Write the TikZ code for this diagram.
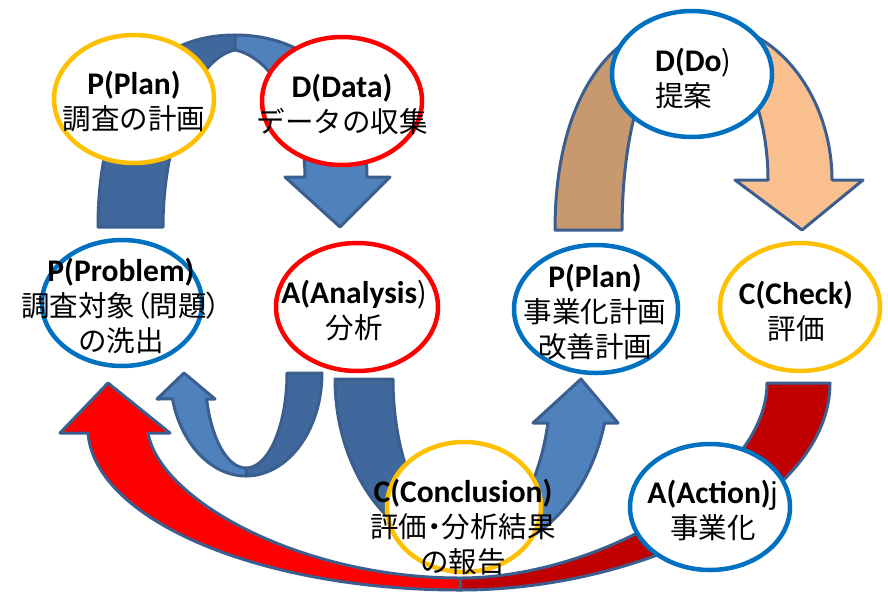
\documentclass[tikz,border=0pt]{standalone}
\usepackage{fontspec}
\setmainfont{Carlito}[BoldFont={Carlito Bold}]
\newfontfamily\jp{Noto Sans CJK JP}
\newfontfamily\jpprop{Noto Sans CJK JP}[RawFeature=+palt]
\usetikzlibrary{shapes.geometric}
\definecolor{arrowedge}{HTML}{3A5F8E}
\definecolor{bluelight}{HTML}{4F81BD}
\definecolor{bluedark}{HTML}{41689C}
\definecolor{tanface}{HTML}{C8996F}
\definecolor{peach}{HTML}{FAC090}
\definecolor{redlight}{HTML}{FF0000}
\definecolor{reddark}{HTML}{C00000}
\definecolor{ringyellow}{HTML}{FFC000}
\definecolor{ringred}{HTML}{FF0000}
\definecolor{ringblue}{HTML}{0070C0}
% Japanese lines: regular weight, fixed and proportional spacing
\newcommand\jpl[1]{{\jp\mdseries\fontsize{28.5}{35}\selectfont #1}}
\newcommand\jpp[1]{{\jpprop\mdseries\fontsize{28.5}{35}\selectfont #1}}
\begin{document}
\begin{tikzpicture}[x=1pt,y=-1pt,
  arrowline/.style={draw=arrowedge, line width=3pt, line join=round},
  stage/.style={ellipse, draw, fill=white, line width=4.5pt, inner sep=0pt},
  stagetext/.style={align=center, inner sep=0pt,
    font=\fontsize{31.5}{35}\selectfont\bfseries},
]
\useasboundingbox (0,0) rectangle (888,592);

% ---- block arrows ----
% Problem -> Plan -> Data -> Analysis (arch)
\filldraw[arrowline, fill=bluedark]
  (98,227) .. controls (98,100) and (150,35) .. (235,35) -- (235,50)
  .. controls (195,58) and (163,140) .. (163,227) -- cycle;
\filldraw[arrowline, fill=bluelight]
  (235,35) .. controls (320,35) and (367,100) .. (367,177) -- (390,177)
  -- (340,227) -- (285,177) -- (305,177)
  .. controls (305,120) and (275,58) .. (235,50) -- cycle;

% Plan -> Do -> Check (arch)
\filldraw[arrowline, fill=tanface]
  (555,230) .. controls (555,100) and (610,20) .. (693,20) -- (693,35)
  .. controls (650,40) and (622,120) .. (622,230) -- cycle;
\filldraw[arrowline, fill=peach]
  (693,20) .. controls (780,20) and (832,100) .. (832,180) -- (863,180)
  -- (802,230) -- (735,180) -- (768,180)
  .. controls (768,110) and (740,40) .. (693,35) -- cycle;

% Analysis -> Problem (U turn)
\filldraw[arrowline, fill=bluedark]
  plot[domain=0:90, samples=40, variable=\t] ({246+76*cos(\t)},{373+103*sin(\t)})
  -- plot[domain=90:0, samples=40, variable=\t] ({246+41*cos(\t)},{373+95*sin(\t)})
  -- cycle;
\filldraw[arrowline, fill=bluelight]
  plot[domain=90:165.4, samples=40, variable=\t] ({246+76*cos(\t)},{373+103*sin(\t)})
  -- (157,399) -- (184,373) -- (215,399)
  -- plot[domain=164.1:90, samples=40, variable=\t] ({246+41*cos(\t)},{373+95*sin(\t)})
  -- cycle;

% Analysis -> Conclusion -> Plan (U turn)
\filldraw[arrowline, fill=bluedark]
  plot[domain=180:90, samples=40, variable=\t] ({472+137*cos(\t)},{379+175*sin(\t)})
  -- plot[domain=90:180, samples=40, variable=\t] ({472+79*cos(\t)},{379+160*sin(\t)})
  -- cycle;
\filldraw[arrowline, fill=bluelight]
  plot[domain=90:14.6, samples=40, variable=\t] ({472+137*cos(\t)},{379+175*sin(\t)})
  -- (618,423) -- (581,379) -- (533,423)
  -- plot[domain=16:90, samples=40, variable=\t] ({472+79*cos(\t)},{379+160*sin(\t)})
  -- cycle;

% Check -> Action -> Problem (wide sweep)
\filldraw[arrowline, fill=reddark]
  (460,590) .. controls (640,590) and (830,500) .. (830,383) -- (767,383)
  .. controls (767,480) and (600,578) .. (460,578) -- cycle;
\filldraw[arrowline, fill=redlight]
  (460,590) .. controls (260,590) and (95,520) .. (88,433) -- (60,433)
  -- (108,383) -- (170,433) -- (148,433)
  .. controls (160,500) and (300,578) .. (460,578) -- cycle;

% ---- stages ----
\node[stage, draw=ringyellow, minimum width=160pt, minimum height=128pt] (planA) at (134,99) {};
\node[stage, draw=ringred, minimum width=160pt, minimum height=128pt] (data) at (342,101) {};
\node[stage, draw=ringblue, minimum width=160pt, minimum height=126pt] (doit) at (692,74) {};
\node[stage, draw=ringblue, minimum width=160pt, minimum height=126pt] (problem) at (122,303) {};
\node[stage, draw=ringred, minimum width=162pt, minimum height=128pt] (analysis) at (357,307) {};
\node[stage, draw=ringblue, minimum width=164pt, minimum height=128pt] (planB) at (596,309) {};
\node[stage, draw=ringyellow, minimum width=160pt, minimum height=128pt] (check) at (800,307) {};
\node[stage, draw=ringyellow, minimum width=154pt, minimum height=130pt] (concl) at (464,507) {};
\node[stage, draw=ringblue, minimum width=160pt, minimum height=126pt] (action) at (710,507) {};

% ---- stage texts ----
\node[stagetext] (tPlanA) at (134,102) {P(Plan)\\\jpl{調査の計画}};
\node[stagetext] (tData) at (342,104) {D(Data)\\\jpl{データの収集}};
\node[stagetext, align=left, anchor=west] (tDo) at (655,78) {D(Do\jpl{)}\\\jpl{提案}};
\node[stagetext] (tProblem) at (121,306) {P(Problem)\\\jpp{調査対象（問題）}\\\jpl{の洗出}};
\node[stagetext] (tAnalysis) at (354,311) {A(Analysis\jpl{)}\\\jpl{分析}};
\node[stagetext] (tPlanB) at (595,312) {P(Plan)\\\jpl{事業化計画}\\\jpl{改善計画}};
\node[stagetext] (tCheck) at (796,311) {C(Check)\\\jpl{評価}};
\node[stagetext] (tConcl) at (463,527) {C(Conclusion)\\\jpp{評価・分析結果}\\\jpl{の報告}};
\node[stagetext] (tAction) at (713,510) {A(Action)\jpl{j}\\\jpl{事業化}};
\end{tikzpicture}
\end{document}
